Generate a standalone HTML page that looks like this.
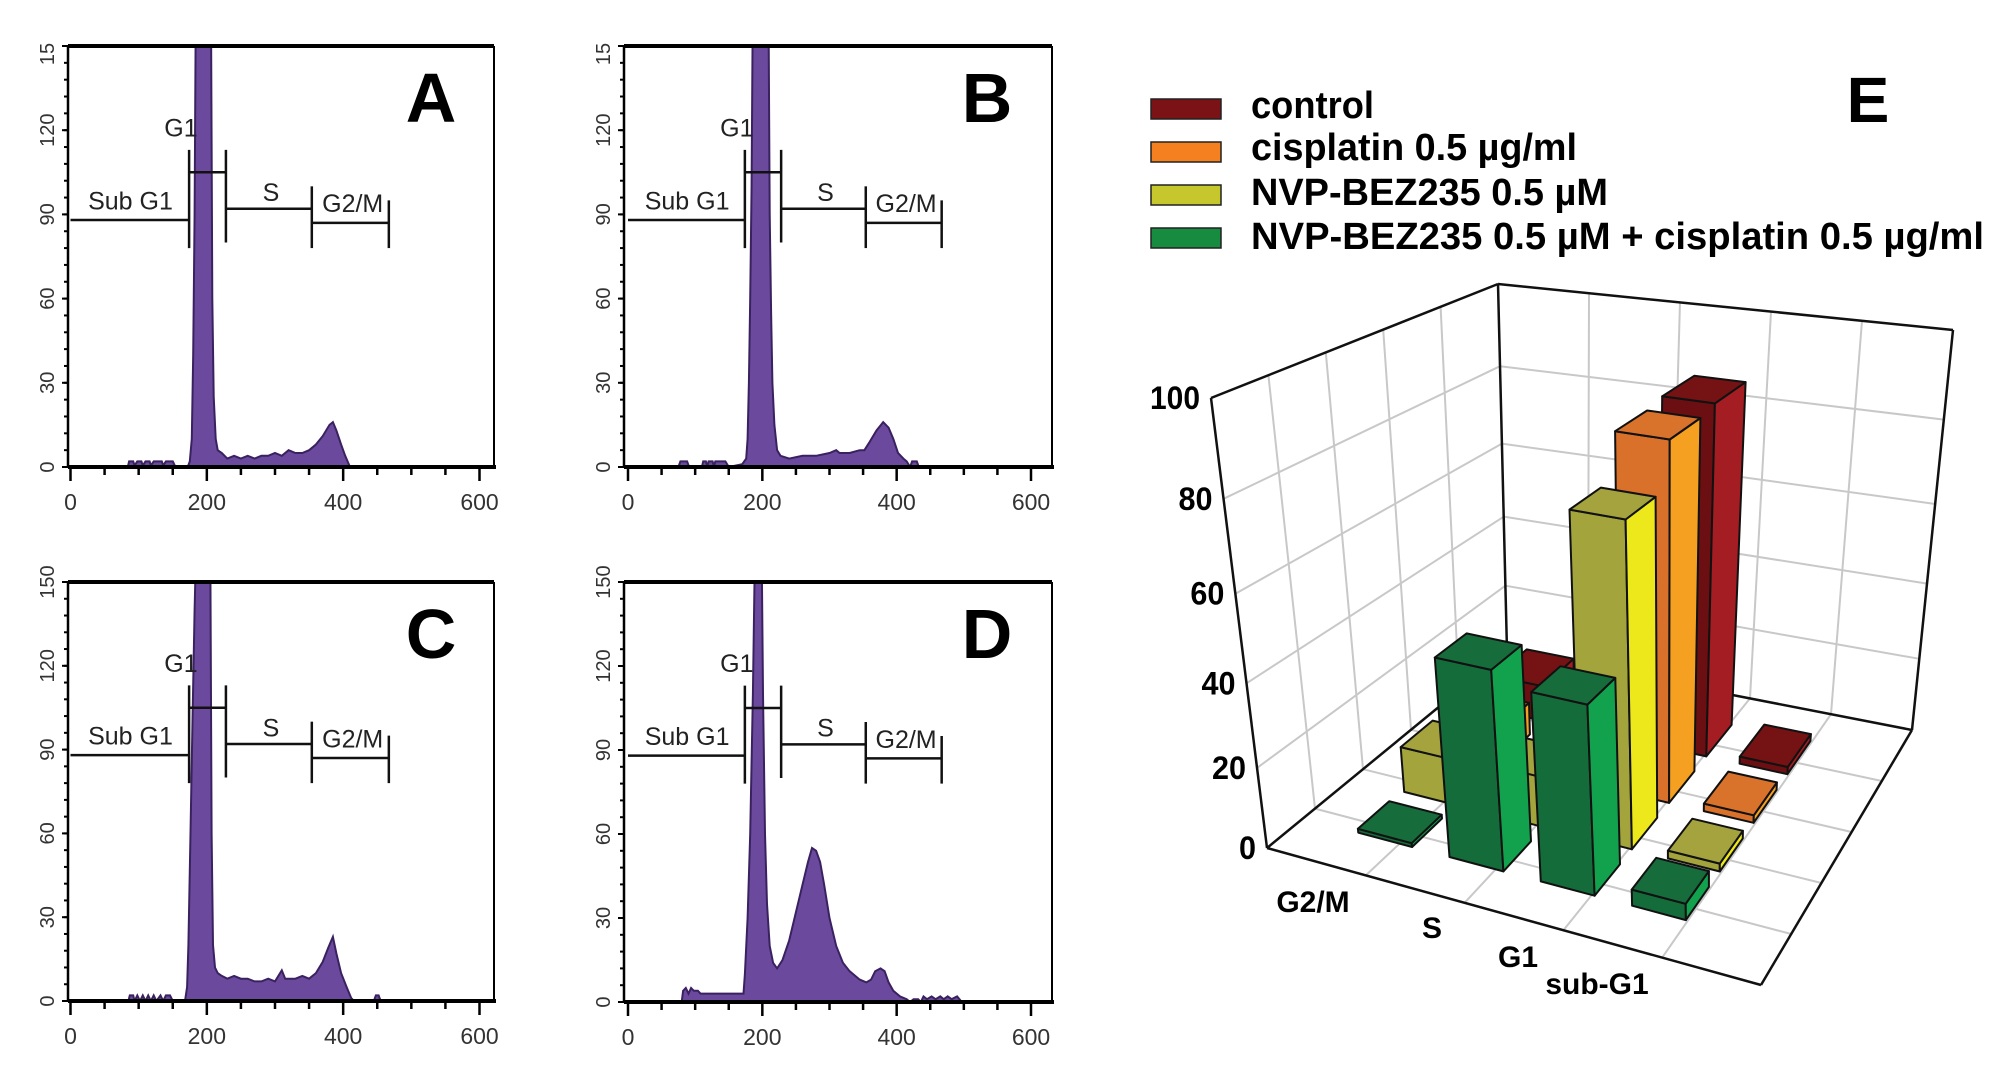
<!DOCTYPE html>
<html><head><meta charset="utf-8">
<style>
html,body{margin:0;padding:0;background:#fff;}
svg{display:block;}
text{font-family:"Liberation Sans",Arial,sans-serif;}
</style></head>
<body>
<svg id="root" width="2008" height="1079" viewBox="0 0 2008 1079" xmlns="http://www.w3.org/2000/svg">
<rect width="2008" height="1079" fill="#fff"/>
<g id="hists"></g>
<g id="chart3d"></g>
<g id="legend">
  <rect x="1151" y="99" width="70" height="20" fill="#7a1216" stroke="#222" stroke-width="1.5"/>
  <text x="1251" y="118" font-size="38" font-weight="bold" textLength="123" lengthAdjust="spacingAndGlyphs">control</text>
  <rect x="1151" y="142" width="70" height="20" fill="#f4801f" stroke="#222" stroke-width="1.5"/>
  <text x="1251" y="160" font-size="38" font-weight="bold" textLength="326" lengthAdjust="spacingAndGlyphs">cisplatin 0.5 µg/ml</text>
  <rect x="1151" y="185" width="70" height="20" fill="#c6c72c" stroke="#222" stroke-width="1.5"/>
  <text x="1251" y="205" font-size="38" font-weight="bold" textLength="357" lengthAdjust="spacingAndGlyphs">NVP-BEZ235 0.5 µM</text>
  <rect x="1151" y="228" width="70" height="20" fill="#178c41" stroke="#222" stroke-width="1.5"/>
  <text x="1251" y="249" font-size="38" font-weight="bold" textLength="733" lengthAdjust="spacingAndGlyphs">NVP-BEZ235 0.5 µM + cisplatin 0.5 µg/ml</text>
</g>
<text x="1868" y="122" font-size="64" font-weight="bold" text-anchor="middle">E</text>
</svg>
<script>
// ---------- Histogram data (DNA content vs counts) ----------
const histTicksX = [0, 200, 400, 600];
const histTicksY = [0, 30, 60, 90, 120, 150];
const xA = [0,84,86,92,94,98,104,106,110,116,118,122,134,136,140,150,154,172,175,178,180,182,184,206,208,210,213,216,222,230,240,250,260,270,280,290,300,310,320,330,340,350,360,370,380,385,390,397,403,410,600];
const yA = [0,0,2,2,0.5,2,2,0.5,2,2,0.5,2,2,0.5,2,2,0,0,2,10,40,90,170,170,60,25,10,6,5,3,4,3,4,3,4,4,5,4,6,5,5,6,8,11,15,16,13,8,4,0,0];
const xB = [0,75,78,88,91,110,112,116,118,120,126,128,130,140,145,150,170,176,178,180,182,184,186,209,211,213,215,218,222,227,240,260,280,300,310,315,330,345,352,360,370,380,388,395,402,410,415,420,423,430,433,600];
const yB = [0,0,2,2,0,0,2,2,0,2,2,0,2,2,2,0,1,3,10,30,60,100,170,170,90,55,30,15,6,4,3,4,4,5,6,5,5,6,6,9,13,16,14,10,5,3,2,0,2,2,0,0];
const xC = [0,85,87,92,94,98,102,106,110,114,118,122,126,132,136,140,146,150,168,171,173,176,179,182,185,205,207,209,212,216,222,230,240,250,260,270,280,290,300,310,315,330,340,350,360,370,378,385,390,397,405,412,416,445,448,452,455,600];
const yC = [0,0,2,2,0,2,0,2,0,2,0,2,0,2,0,2,2,0,0,5,20,60,100,140,170,170,60,20,12,10,9,8,9,8,8,7,7,8,7,11,8,8,9,8,10,14,19,23,17,10,5,1,0,0,2,2,0,0];
const xD = [0,80,82,86,90,94,98,104,108,120,135,140,172,174,178,182,186,189,199,201,204,207,211,216,222,230,240,250,260,268,274,280,286,292,300,310,320,330,345,355,362,368,376,382,388,395,405,415,420,425,432,436,440,445,452,458,465,470,476,482,490,497,600];
const yD = [0,0,4,5,3,5,4,4,3,3,3,3,3,10,30,60,110,160,160,110,60,35,20,14,12,15,22,32,42,50,55,54,50,42,30,20,14,11,8,7,8,11,12,11,7,4,2,1,0,1,1,0,2,1,2,1,2,1,2,1,2,0,0];

// ---------- 3D bar chart data ----------
const phases = ["G2/M", "S", "G1", "sub-G1"];
const treatments = ["control", "cisplatin", "nvp", "combination"];
const controlVals = [10, 15, 88, 2];
const cisplatinVals = [9, 13, 87, 2];
const nvpVals = [12, 13, 77, 2];
const comboVals = [1, 48, 45, 4];
const zTicks = [0, 20, 40, 60, 80, 100];

const NS = "http://www.w3.org/2000/svg";
function mk(tag, attrs, parent) {
  const e = document.createElementNS(NS, tag);
  for (const k in attrs) e.setAttribute(k, attrs[k]);
  if (parent) parent.appendChild(e);
  return e;
}

// ---------- Histograms ----------
const panels = [
  {id:"a", label:"A", xs:xA, ys:yA, left:68, right:494, top:46, base:467, x0:70.5, x600:479.5, top150:"15"},
  {id:"b", label:"B", xs:xB, ys:yB, left:624, right:1052, top:46, base:467, x0:628, x600:1031, top150:"15"},
  {id:"c", label:"C", xs:xC, ys:yC, left:68, right:494, top:582, base:1001, x0:70.5, x600:479.5, top150:"150"},
  {id:"d", label:"D", xs:xD, ys:yD, left:624, right:1052, top:582, base:1002, x0:628, x600:1031, top150:"150"}
];
const hg = document.getElementById("hists");
const defs = mk("defs", {}, hg);
panels.forEach(p => {
  const g = mk("g", {}, hg);
  
  
  const xs = v => p.x0 + (p.x600 - p.x0) * v / 600;
  const ys = v => p.base - (p.base - p.top) * v / 150;
  const cp = mk("clipPath", {id:"clip-" + p.id}, defs);
  mk("rect", {x:p.left, y:p.top, width:p.right - p.left, height:p.base - p.top}, cp);
  let pts = [];
  for (let i = 0; i < p.xs.length; i++) pts.push(xs(p.xs[i]).toFixed(1) + "," + ys(p.ys[i]).toFixed(1));
  pts.push(xs(600) + "," + p.base, xs(0) + "," + p.base);
  const poly = mk("polygon", {points:pts.join(" "), fill:"#6b4a9e", stroke:"#3a2160", "stroke-width":2, "clip-path":"url(#clip-" + p.id + ")"}, g);
  
  
  mk("line", {x1:p.left, y1:p.top, x2:p.right, y2:p.top, stroke:"#000", "stroke-width":4}, g);
  mk("line", {x1:p.right, y1:p.top, x2:p.right, y2:p.base, stroke:"#000", "stroke-width":2}, g);
  mk("line", {x1:p.left, y1:p.top, x2:p.left, y2:p.base, stroke:"#000", "stroke-width":2.5}, g);
  mk("line", {x1:p.left, y1:p.base, x2:p.right + 2, y2:p.base, stroke:"#000", "stroke-width":4}, g);
  for (let v = 0; v <= 150; v += 6) {
    mk("line", {x1:p.left - 4, y1:ys(v), x2:p.left, y2:ys(v), stroke:"#000", "stroke-width":2}, g);
  }
  histTicksY.forEach((v, i) => {
    mk("line", {x1:p.left - 6, y1:ys(v), x2:p.left, y2:ys(v), stroke:"#000", "stroke-width":2}, g);
    const lbl = i === histTicksY.length - 1 ? p.top150 : String(v);
    const cy = i === histTicksY.length - 1 && lbl === "15" ? ys(v) + 8 : ys(v);
    const t = mk("text", {x:0, y:0, "font-size":20, fill:"#333", "text-anchor":"middle", transform:"translate(" + (p.left - 14) + "," + cy + ") rotate(-90)"}, g);
    t.textContent = lbl;
    
    
  });
  for (let v = 0; v <= 600; v += 50) {
    const major = v % 200 === 0;
    mk("line", {x1:xs(v), y1:p.base, x2:xs(v), y2:p.base + (major ? 14 : 8), stroke:"#000", "stroke-width":2.5}, g);
  }
  histTicksX.forEach(v => {
    const t = mk("text", {x:xs(v), y:p.base + 43, "font-size":23, fill:"#333", "text-anchor":"middle"}, g);
    t.textContent = String(v);
    
    
  });
  const gl = (x1, y1, x2, y2, w) => mk("line", {x1:xs(x1), y1:ys(y1), x2:xs(x2), y2:ys(y2), stroke:"#111", "stroke-width":w || 2.5}, g);
  gl(0, 88, 174, 88); gl(174, 78, 174, 113);
  gl(174, 105, 228, 105); gl(228, 80, 228, 113);
  gl(228, 92, 354, 92); gl(354, 78, 354, 100);
  gl(354, 87, 467, 87); gl(467, 78, 467, 95);
  const lab = (txt, x, y, anchor, nm) => {
    const t = mk("text", {x:xs(x), y:ys(y) + 9, "font-size":25, fill:"#222", "text-anchor":anchor}, g);
    t.textContent = txt;
    
    
  };
  lab("Sub G1", 88, 95, "middle", "gate-label-subg1");
  lab("G1", 162, 121, "middle", "gate-label-g1");
  lab("S", 294, 98, "middle", "gate-label-s");
  lab("G2/M", 414, 94, "middle", "gate-label-g2m");
  const L = mk("text", {x:p.left + 363, y:p.top + 76, "font-size":70, "font-weight":"bold", "text-anchor":"middle"}, g);
  L.textContent = p.label;
  
  
});

// ---------- 3D chart ----------
const FA = [1267,848], FB = [1761,985], FC = [1912,730], FD = [1507,651];
const TA = [1211,398], TB = [1757,495], TC = [1953,330], TD = [1498,284];
const lerp = (a, b, k) => [a[0] + (b[0] - a[0]) * k, a[1] + (b[1] - a[1]) * k];
function zf(z) { const u = z / 100; return 0.866 * u / (1 - 0.134 * u); }
function P(s, t, z) {
  const f = lerp(lerp(FA, FB, s), lerp(FD, FC, s), t);
  const tp = lerp(lerp(TA, TB, s), lerp(TD, TC, s), t);
  return lerp(f, tp, zf(z));
}
const cg = document.getElementById("chart3d");


const gridG = mk("g", {stroke:"#c8c8c8", "stroke-width":2, fill:"none"}, cg);
const seg = (a, b, par, col, w) => mk("line", {x1:a[0], y1:a[1], x2:b[0], y2:b[1], stroke:col || "#c8c8c8", "stroke-width":w || 2}, par);
zTicks.slice(1, -1).forEach(z => {
  seg(P(0,0,z), P(0,1,z), gridG);
  seg(P(0,1,z), P(1,1,z), gridG);
});
[0.2,0.4,0.6,0.8].forEach(k => {
  seg(P(0,k,0), P(0,k,100), gridG);
  seg(P(k,1,0), P(k,1,100), gridG);
  seg(P(k,0,0), P(k,1,0), gridG);
  seg(P(0,k,0), P(1,k,0), gridG);
});
const boxG = mk("g", {}, cg);


[[P(0,0,0),P(0,0,100)],[P(0,0,100),P(0,1,100)],[P(0,1,0),P(0,1,100)],[P(0,1,100),P(1,1,100)],
 [P(1,1,0),P(1,1,100)],[P(0,0,0),P(1,0,0)],[P(1,0,0),P(1,1,0)],[P(0,0,0),P(0,1,0)],[P(0,1,0),P(1,1,0)]]
 .forEach(e => seg(e[0], e[1], boxG, "#111", 2.5));
zTicks.forEach(z => {
  const q = P(0,0,z);
  const t = mk("text", {x:q[0] - 11, y:q[1] + 11, "font-size":32, "font-weight":"bold", "text-anchor":"end", textLength:(z >= 100 ? 50 : z > 0 ? 34 : 17), lengthAdjust:"spacingAndGlyphs"}, cg);
  t.textContent = String(z);
  
  
});
const catLabelPos = [[1313,912],[1432,938],[1518,967],[1597,994]];
phases.forEach((c, i) => {
  const t = mk("text", {x:catLabelPos[i][0], y:catLabelPos[i][1], "font-size":30, "font-weight":"bold", "text-anchor":"middle"}, cg);
  t.textContent = c;
  
  
});
const seriesVals = [controlVals, cisplatinVals, nvpVals, comboVals];
const seriesT = [0.82, 0.62, 0.42, 0.22];
const catS = [0.17, 0.36, 0.55, 0.74];
const colors = [
  {front:"#6c0f12", side:"#a41d22", top:"#741214"},
  {front:"#d9712b", side:"#f5a020", top:"#d9732c"},
  {front:"#a3a43b", side:"#ece81c", top:"#a4a33e"},
  {front:"#136c3a", side:"#12a24d", top:"#176c3c"}
];
const ds = 0.056, dt = 0.068;
const barsG = mk("g", {stroke:"#111", "stroke-width":2, "stroke-linejoin":"round"}, cg);
const order = [];
seriesVals.forEach((vals, si) => vals.forEach((v, ci) => order.push([si, ci])));
order.sort((a, b) => (seriesT[b[0]] - seriesT[a[0]]) || (catS[a[1]] - catS[b[1]]));
const poly = (pts, fill, par) => mk("polygon", {points:pts.map(p => p[0].toFixed(1) + "," + p[1].toFixed(1)).join(" "), fill:fill}, par);
order.forEach(([si, ci]) => {
  const v = seriesVals[si][ci];
  const s0 = catS[ci] - ds, s1 = catS[ci] + ds, t0 = seriesT[si] - dt, t1 = seriesT[si] + dt;
  const bg = mk("g", {}, barsG);
  
  
  const c = colors[si];
  poly([P(s0,t0,0), P(s1,t0,0), P(s1,t0,v), P(s0,t0,v)], c.front, bg);
  poly([P(s1,t0,0), P(s1,t1,0), P(s1,t1,v), P(s1,t0,v)], c.side, bg);
  poly([P(s0,t0,v), P(s1,t0,v), P(s1,t1,v), P(s0,t1,v)], c.top, bg);
});
</script>
</body></html>
